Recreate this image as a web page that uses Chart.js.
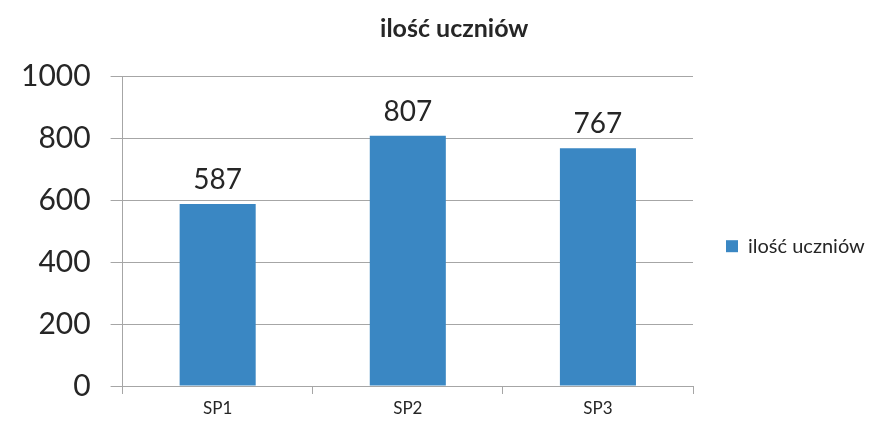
<!DOCTYPE html>
<html>
<head>
<meta charset="utf-8">
<script src="https://cdn.jsdelivr.net/npm/chart.js@4"></script>
<style>
  html, body { margin: 0; padding: 0; background: #fff; }
  #wrap { width: 871px; height: 424px; }
</style>
</head>
<body>
<div id="wrap"><canvas id="uczniowieChart" width="871" height="424"></canvas></div>
<script>
const categories = ['SP1', 'SP2', 'SP3'];
const seriesName = 'ilość uczniów';
const values = [587, 807, 767];
const yTicks = [0, 200, 400, 600, 800, 1000];

const FONT = 'Lato, "Open Sans", sans-serif';
const GRID = '#a6a6a6';

// etykiety nad słupkami
const valueLabels = {
  id: 'valueLabels',
  afterDatasetsDraw(chart) {
    const c = chart.ctx;
    const meta = chart.getDatasetMeta(0);
    c.save();
    c.font = '28px ' + FONT;
    c.fillStyle = '#262626';
    c.textAlign = 'center';
    c.textBaseline = 'bottom';
    meta.data.forEach((bar, i) => {
      c.fillText(values[i], bar.x, bar.y - 10);
    });
    c.restore();
  }
};

new Chart(document.getElementById('uczniowieChart'), {
  type: 'bar',
  data: {
    labels: categories,
    datasets: [{
      label: seriesName,
      data: values,
      backgroundColor: '#3a87c3',
      borderWidth: 0,
      categoryPercentage: 1,
      barPercentage: 0.4
    }]
  },
  options: {
    responsive: false,
    animation: false,
    layout: { padding: { left: 1, right: 0, top: 6, bottom: 0 } },
    plugins: {
      title: {
        display: true,
        // spacje z przodu przesuwają tytuł trochę w prawo
        text: '      ' + seriesName,
        color: '#262626',
        font: { family: FONT, size: 25, weight: 'bold' },
        padding: { top: 8, bottom: 32 }
      },
      legend: {
        position: 'right',
        maxWidth: 178,
        // pusty tytuł legendy tylko po to, by zsunąć pozycję niżej
        title: {
          display: true,
          text: '',
          font: { size: 12 },
          padding: { top: 48, bottom: 0 }
        },
        labels: {
          color: '#262626',
          font: { family: FONT, size: 20 },
          boxWidth: 12,
          boxHeight: 12,
          padding: 33
        }
      },
      tooltip: { enabled: false }
    },
    scales: {
      x: {
        grid: {
          drawOnChartArea: false,
          drawTicks: true,
          tickLength: 8,
          color: GRID
        },
        border: { color: GRID },
        ticks: {
          color: '#262626',
          font: { family: FONT, size: 17 },
          padding: 4
        }
      },
      y: {
        min: 0,
        max: 1000,
        afterBuildTicks(scale) {
          scale.ticks = yTicks.map(v => ({ value: v }));
        },
        grid: {
          color: GRID,
          tickLength: 12
        },
        border: { color: GRID },
        ticks: {
          color: '#262626',
          font: { family: FONT, size: 30 },
          padding: 20,
          callback: v => String(v)
        }
      }
    }
  },
  plugins: [valueLabels]
});
</script>
</body>
</html>
